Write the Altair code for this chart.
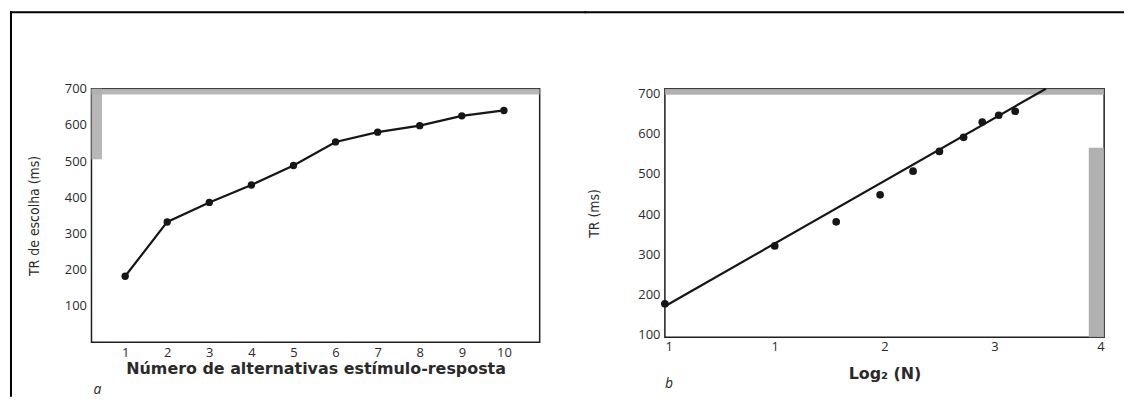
import altair as alt
import pandas as pd

# ---------------- data ----------------
# Panel a: choice reaction time vs number of stimulus-response alternatives
alt_n = [1, 2, 3, 4, 5, 6, 7, 8, 9, 10]
tr_choice = [182, 332, 386, 434, 488, 553, 580, 598, 625, 640]

# Panel b: reaction time vs log2(N)
log2_n = [0.0, 1.0, 1.56, 1.96, 2.26, 2.50, 2.72, 2.89, 3.04, 3.19]
tr_ms = [177, 321, 381, 448, 507, 556, 591, 629, 646, 656]
fit_x = [0.0, 3.47]
fit_y = [171, 712]

y_ticks = [100, 200, 300, 400, 500, 600, 700]
xa_ticks = [1, 2, 3, 4, 5, 6, 7, 8, 9, 10]
xb_ticks = [0, 1, 2, 3, 4]
xb_labels = ["1", "1", "2", "3", "4"]

title_a_x = "Número de alternativas estímulo-resposta"
title_a_y = "TR de escolha (ms)"
title_b_x = "Log₂ (N)"
title_b_y = "TR (ms)"
tag_a = "a"
tag_b = "b"

# shaded (scanned) bands on the plot frames
band_a = pd.DataFrame({"x": [0.2, 0.2], "x2": [10.85, 0.45], "y": [684, 505], "y2": [700, 700]})
band_b = pd.DataFrame({"x": [0.0, 3.86], "x2": [4.0, 4.0], "y": [697, 94], "y2": [712, 565]})

df_a = pd.DataFrame({"x": alt_n, "y": tr_choice})
df_b = pd.DataFrame({"x": log2_n, "y": tr_ms})
df_fit = pd.DataFrame({"x": fit_x, "y": fit_y})
one = pd.DataFrame({"k": [0]})

INK = "#161616"
TXT = "#2a2a2a"
LABEL_FONT = "Open Sans"
BOLD_FONT = "DejaVu Sans"
NARROW = "'DejaVu Sans Condensed', 'Liberation Sans', sans-serif"

# ---------------- panel a ----------------
W1, H1 = 451, 255
xs_a = alt.Scale(domain=[0.2, 10.85], nice=False, zero=False)
ys_a = alt.Scale(domain=[0, 700], nice=False)
ax_xa = alt.Axis(values=xa_ticks, ticks=False, domain=False, grid=False,
                 labelFont=LABEL_FONT, labelFontSize=13, labelColor=TXT, labelPadding=4,
                 title=title_a_x, titleFont=BOLD_FONT, titleFontSize=16, titleFontWeight="bold",
                 titleColor=TXT, titlePadding=2)
ax_ya = alt.Axis(values=y_ticks, ticks=False, domain=False, grid=False,
                 labelFont=LABEL_FONT, labelFontSize=13, labelColor=TXT, labelPadding=5,
                 title=title_a_y, titleFont=NARROW, titleFontSize=14, titleFontWeight="normal",
                 titleColor=TXT, titlePadding=23)
X_a = lambda f: alt.X(f"{f}:Q", scale=xs_a, axis=ax_xa)
Y_a = lambda f: alt.Y(f"{f}:Q", scale=ys_a, axis=ax_ya)

bands_a = alt.Chart(band_a).mark_rect(color="#b0b0b0", opacity=0.9).encode(
    x=X_a("x"), x2="x2", y=Y_a("y"), y2="y2")
line_a = alt.Chart(df_a).mark_line(color=INK, strokeWidth=2.2).encode(x=X_a("x"), y=Y_a("y"))
pts_a = alt.Chart(df_a).mark_circle(color=INK, size=55, opacity=1).encode(x=X_a("x"), y=Y_a("y"))
frame_left = alt.Chart(one).mark_rule(color="#000", strokeWidth=2).encode(
    x=alt.value(-81), y=alt.value(-78), y2=alt.value(310))
frame_top_a = alt.Chart(one).mark_rule(color="#000", strokeWidth=2).encode(
    x=alt.value(-82), x2=alt.value(W1 + 47), y=alt.value(-77))
lab_a = alt.Chart(one).mark_text(text=tag_a, font=LABEL_FONT, fontSize=14, fontStyle="italic",
                                 color=TXT, align="left", baseline="middle").encode(
    x=alt.value(2), y=alt.value(303))

panel_a = alt.layer(bands_a, line_a, pts_a, frame_left, frame_top_a, lab_a).properties(
    width=W1, height=H1)

# ---------------- panel b ----------------
W2, H2 = 442, 250
xs_b = alt.Scale(domain=[0, 4], nice=False, zero=False)
ys_b = alt.Scale(domain=[94, 712], nice=False, zero=False)
label_expr = "[" + ",".join(f"'{s}'" for s in xb_labels) + "][datum.value]"
ax_xb = alt.Axis(values=xb_ticks, ticks=False, domain=False, grid=False, labelExpr=label_expr,
                 labelFont=LABEL_FONT, labelFontSize=13, labelColor=TXT, labelPadding=3,
                 title=title_b_x, titleFont=BOLD_FONT, titleFontSize=16, titleFontWeight="bold",
                 titleColor=TXT, titlePadding=13)
ax_yb = alt.Axis(values=y_ticks, ticks=False, domain=False, grid=False,
                 labelFont=LABEL_FONT, labelFontSize=13, labelColor=TXT, labelPadding=5,
                 title=title_b_y, titleFont=NARROW, titleFontSize=14, titleFontWeight="normal",
                 titleColor=TXT, titlePadding=37)
X_b = lambda f: alt.X(f"{f}:Q", scale=xs_b, axis=ax_xb)
Y_b = lambda f: alt.Y(f"{f}:Q", scale=ys_b, axis=ax_yb)

bands_b = alt.Chart(band_b).mark_rect(color="#a8a8a8", opacity=0.9).encode(
    x=X_b("x"), x2="x2", y=Y_b("y"), y2="y2")
fit_b = alt.Chart(df_fit).mark_line(color=INK, strokeWidth=2.2).encode(x=X_b("x"), y=Y_b("y"))
pts_b = alt.Chart(df_b).mark_circle(color=INK, size=60, opacity=1).encode(x=X_b("x"), y=Y_b("y"))
frame_top_b = alt.Chart(one).mark_rule(color="#000", strokeWidth=2).encode(
    x=alt.value(-81), x2=alt.value(W2 + 20), y=alt.value(-77))
lab_b = alt.Chart(one).mark_text(text=tag_b, font=LABEL_FONT, fontSize=14, fontStyle="italic",
                                 color=TXT, align="left", baseline="middle").encode(
    x=alt.value(0), y=alt.value(297))

panel_b = alt.layer(bands_b, fit_b, pts_b, frame_top_b, lab_b).properties(width=W2, height=H2)

chart = alt.hconcat(panel_a, panel_b, spacing=-6).properties(
    padding=0, background="white"
).configure_view(stroke="#1e1e1e", strokeWidth=1.5)

chart.save("out.html", embed_options={"renderer": "svg", "actions": False})
